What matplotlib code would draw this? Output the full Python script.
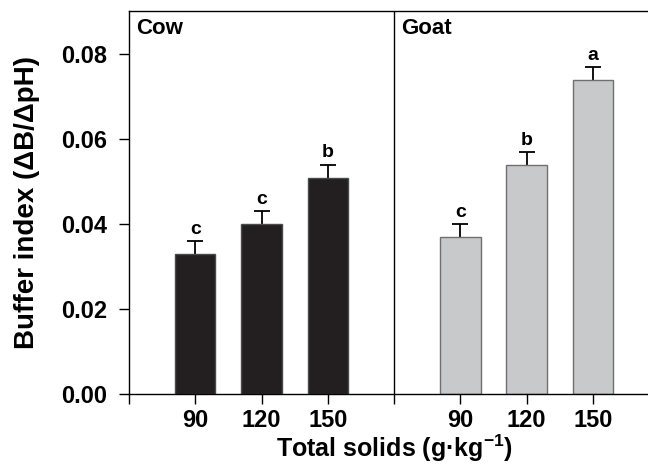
import matplotlib
matplotlib.use("Agg")
import matplotlib.pyplot as plt

plt.rcParams['font.family'] = ['Liberation Sans', 'DejaVu Sans']
plt.rcParams['mathtext.fontset'] = 'custom'
plt.rcParams['mathtext.bf'] = 'Liberation Sans:bold'
plt.rcParams['mathtext.rm'] = 'Liberation Sans'

solids = ["90", "120", "150"]
cow_vals = [0.033, 0.040, 0.051]
cow_err = [0.003, 0.003, 0.003]
cow_letters = ["c", "c", "b"]
goat_vals = [0.037, 0.054, 0.074]
goat_err = [0.003, 0.003, 0.003]
goat_letters = ["c", "b", "a"]

fig = plt.figure(figsize=(6.48, 4.66), dpi=100)
ax = fig.add_axes([0.1991, 0.1545, 0.818, 0.8225])

cow_x = [1, 2, 3]
goat_x = [5, 6, 7]
w = 0.61

ax.bar(cow_x, cow_vals, width=w, color='#231f20', edgecolor='#4a4a4a', linewidth=1, zorder=2)
ax.bar(goat_x, goat_vals, width=w, color='#c8c9cb', edgecolor='#707070', linewidth=1, zorder=2)

for xs, vals, errs, letters in [(cow_x, cow_vals, cow_err, cow_letters),
                                (goat_x, goat_vals, goat_err, goat_letters)]:
    eb = ax.errorbar(xs, vals, yerr=[[0] * 3, errs], fmt='none', ecolor='black',
                     elinewidth=1.3, capsize=5.5, capthick=1.3, zorder=1)
    eb[1][0].set_visible(False)   # no cap at bar top
    for x, v, e, l in zip(xs, vals, errs, letters):
        ax.text(x, v + e + 0.0008, l, ha='center', va='bottom',
                fontsize=14, fontweight='bold')

ax.axvline(4, color='black', linewidth=1)

ax.text(0.1, 0.0885, "Cow", ha='left', va='top', fontsize=16, fontweight='bold')
ax.text(4.1, 0.0885, "Goat", ha='left', va='top', fontsize=16, fontweight='bold')

ax.set_xlim(0, 8)
ax.set_ylim(0, 0.0903)
ax.set_yticks([0, 0.02, 0.04, 0.06, 0.08])
ax.set_yticklabels(["0.00", "0.02", "0.04", "0.06", "0.08"])
ax.set_xticks(cow_x + goat_x)
ax.set_xticklabels(solids + solids)
ax.set_xticks([0, 4, 8], minor=True)
ax.tick_params(axis='both', which='both', direction='out', length=7, width=1)
ax.tick_params(axis='x', pad=4)
ax.tick_params(axis='y', pad=9)
for lab in ax.get_xticklabels() + ax.get_yticklabels():
    lab.set_fontsize(17)
    lab.set_fontweight('bold')

for s in ax.spines.values():
    s.set_linewidth(1)

ax.set_ylabel("Buffer index (\u0394B/\u0394pH)", fontsize=20, fontweight='bold')
ax.yaxis.set_label_coords(-0.168, 0.5)
ax.set_xlabel("Total solids (g\u00b7kg$^{\\mathbf{-1}}$)", fontsize=18, fontweight='bold')
ax.xaxis.set_label_coords(0.5, -0.1)

fig.savefig("out.png", dpi=100)
